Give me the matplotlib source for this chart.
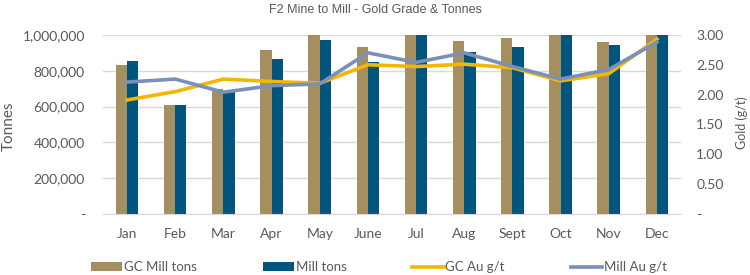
import matplotlib
matplotlib.use("Agg")
import matplotlib.pyplot as plt
import numpy as np
from matplotlib.ticker import FuncFormatter

months = ["Jan", "Feb", "Mar", "Apr", "May", "June", "Jul", "Aug", "Sept", "Oct", "Nov", "Dec"]
gc_mill_tons = [832000, 609000, 700000, 916000, 1050000, 933000, 1050000, 968000, 985000, 1050000, 963000, 1050000]
mill_tons = [852000, 609000, 680000, 866000, 972000, 850000, 1050000, 905000, 931000, 1050000, 944000, 1050000]
gc_au = [1.91, 2.05, 2.26, 2.22, 2.19, 2.50, 2.47, 2.51, 2.45, 2.23, 2.35, 2.93]
mill_au = [2.21, 2.26, 2.04, 2.15, 2.18, 2.70, 2.54, 2.70, 2.47, 2.26, 2.42, 2.88]

C_TAN = "#A58F60"
C_NAVY = "#00557F"
C_YEL = "#F2B700"
C_BLUE = "#7990BA"
C_TXT = "#595959"
C_GRID = "#D9D9D9"

plt.rcParams["font.family"] = ["Lato", "DejaVu Sans"]

fig = plt.figure(figsize=(7.5, 2.75), dpi=100)
ax = fig.add_axes([0.1373, 0.222, 0.7707, 0.651])
x = np.arange(len(months))
w = 0.234
ax.bar(x - w / 2, gc_mill_tons, w, color=C_TAN, label="GC Mill tons", zorder=2)
ax.bar(x + w / 2, mill_tons, w, color=C_NAVY, label="Mill tons", zorder=2)
ax.set_ylim(0, 1000000)
ax.set_xlim(-0.5, len(months) - 0.5)
ax.set_yticks(np.arange(0, 1000001, 200000))
ax.yaxis.set_major_formatter(FuncFormatter(lambda v, p: "-" if v == 0 else f"{int(v):,}"))
ax.grid(axis="y", color=C_GRID, linewidth=1, zorder=0)
ax.set_axisbelow(True)
for s in ["top", "right", "left"]:
    ax.spines[s].set_visible(False)
ax.spines["bottom"].set_color(C_GRID)
ax.tick_params(axis="both", length=0, colors=C_TXT, labelsize=10)
ax.tick_params(axis="y", pad=13)
ax.tick_params(axis="x", pad=10)
ax.set_xticks(x)
ax.set_xticklabels(months)
ax.set_ylabel("Tonnes", color=C_TXT, fontsize=11)
ax.yaxis.set_label_coords(-0.151, 0.49)

ax2 = ax.twinx()
ax2.plot(x, gc_au, color=C_YEL, linewidth=2.6, label="GC Au g/t", zorder=3)
ax2.plot(x, mill_au, color=C_BLUE, linewidth=2.6, label="Mill Au g/t", zorder=4)
ax2.set_ylim(0, 3.0)
ax2.set_yticks(np.arange(0, 3.01, 0.5))
ax2.yaxis.set_major_formatter(FuncFormatter(lambda v, p: "-" if v == 0 else f"{v:.2f}"))
for s in ["top", "right", "left", "bottom"]:
    ax2.spines[s].set_visible(False)
ax2.tick_params(axis="both", length=0, colors=C_TXT, labelsize=10, pad=11)
ax2.set_ylabel("Gold (g/t)", color=C_TXT, fontsize=9)
ax2.yaxis.set_label_coords(1.095, 0.51)

fig.text(0.5, 0.965, "F2 Mine to Mill - Gold Grade & Tonnes", ha="center", va="center",
         color=C_TXT, fontsize=9, family=["Liberation Sans", "DejaVu Sans"])

h1, l1 = ax.get_legend_handles_labels()
h2, l2 = ax2.get_legend_handles_labels()
fig.legend(h1 + h2, l1 + l2, loc="center", bbox_to_anchor=(0.505, 0.028), ncol=4, frameon=False,
           fontsize=9.5, labelcolor=C_TXT, handlelength=2.4, handleheight=0.6, handletextpad=0.1,
           columnspacing=5.0)

fig.savefig("out.png", dpi=100)
